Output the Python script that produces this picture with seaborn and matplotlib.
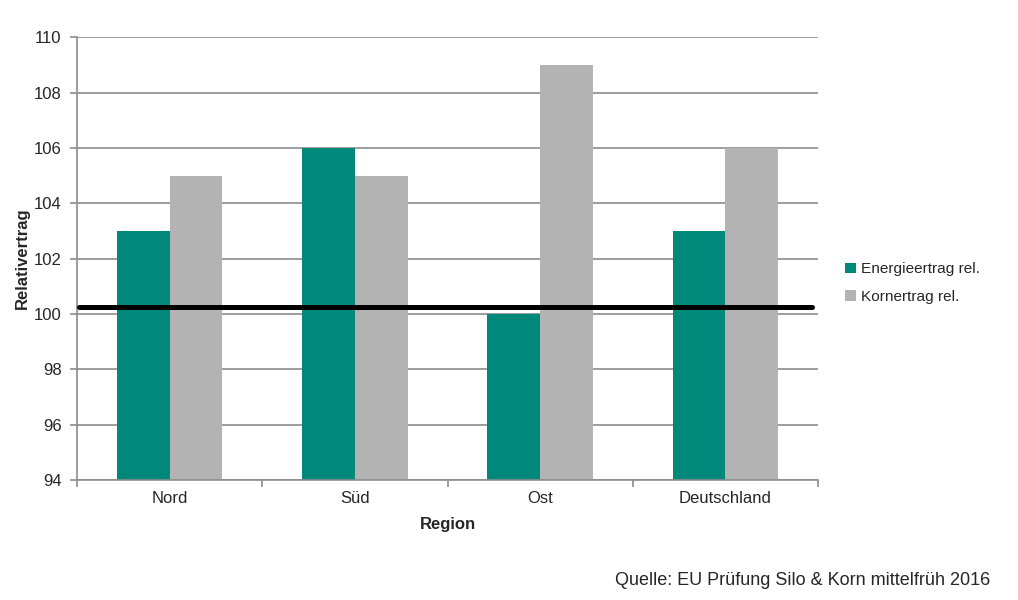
import pandas as pd
import matplotlib.pyplot as plt
import seaborn as sns

# Daten aus dem Diagramm
regionen = ['Nord', 'Süd', 'Ost', 'Deutschland']
energieertrag = [103, 106, 100, 103]
kornertrag = [105, 105, 109, 106]
referenz = 100.25

df = pd.DataFrame({
    'Region': regionen * 2,
    'Wert': energieertrag + kornertrag,
    'Serie': ['Energieertrag rel.'] * 4 + ['Kornertrag rel.'] * 4,
})

sns.set_style('white')
plt.rcParams['font.family'] = ['Liberation Sans', 'DejaVu Sans']

fig = plt.figure(figsize=(10.18, 6), dpi=100)
ax = fig.add_axes([0.0756, 0.2, 0.728, 0.738])

sns.barplot(data=df, x='Region', y='Wert', hue='Serie',
            palette=['#00897B', '#B3B3B3'], width=0.57,
            saturation=1, linewidth=0, ax=ax)

ax.set_ylim(94, 110)
ax.set_xlim(-0.5, 3.5)
ax.set_yticks(range(94, 111, 2))
ax.yaxis.grid(True, color='#8C8C8C', linewidth=1.2)
ax.set_axisbelow(True)

ax.axhline(referenz, xmin=0.003, xmax=0.992, color='black', linewidth=3.6, zorder=5)

for s in ['top', 'right']:
    ax.spines[s].set_visible(False)
for s in ['left', 'bottom']:
    ax.spines[s].set_color('#8C8C8C')
    ax.spines[s].set_linewidth(1.2)

ax.set_xticks([-0.5, 0.5, 1.5, 2.5, 3.5], minor=True)
ax.tick_params(axis='x', which='major', length=0, labelsize=12, pad=8)
ax.tick_params(axis='x', which='minor', length=5, color='#8C8C8C', width=1.2, direction='out', bottom=True)
ax.tick_params(axis='y', length=5, color='#8C8C8C', width=1.2, direction='out', labelsize=12, left=True, pad=6)

ax.set_xlabel('Region', fontsize=12, fontweight='bold', labelpad=8)
ax.set_ylabel('Relativertrag', fontsize=12, fontweight='bold')
ax.yaxis.set_label_coords(-0.064, 0.5)

ax.legend(loc='center left', bbox_to_anchor=(1.018, 0.445), frameon=False,
          fontsize=11.1, handlelength=0.7, handleheight=0.7, handletextpad=0.3,
          labelspacing=0.85)

fig.text(0.973, 0.033, 'Quelle: EU Prüfung Silo & Korn mittelfrüh 2016',
         ha='right', va='center', fontsize=13)

plt.savefig('out.png', dpi=100)
